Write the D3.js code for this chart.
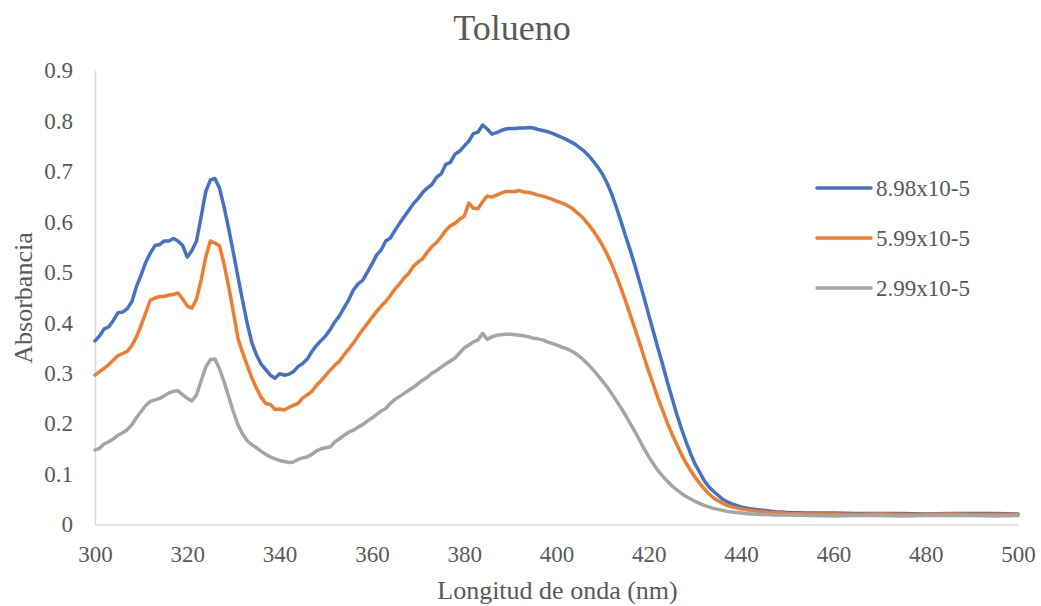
<!DOCTYPE html>
<html>
<head>
<meta charset="utf-8">
<script src="https://cdn.jsdelivr.net/npm/d3@7"></script>
<style>
  html, body { margin: 0; padding: 0; background: #ffffff; }
  svg { display: block; }
  svg text { font-family: "Liberation Serif", "Times New Roman", serif !important; fill: #595959; }
</style>
</head>
<body>
<svg id="chart" width="1041" height="606"></svg>
<script>
// Wavelength grid (nm)
const wavelengths = [
  300,301,302,303,304,305,306,307,308,309,
  310,311,312,313,314,315,316,317,318,319,
  320,321,322,323,324,325,326,327,328,329,
  330,331,332,333,334,335,336,337,338,339,
  340,341,342,343,344,345,346,347,348,349,
  350,351,352,353,354,355,356,357,358,359,
  360,361,362,363,364,365,366,367,368,369,
  370,371,372,373,374,375,376,377,378,379,
  380,381,382,383,384,385,386,387,388,389,
  390,391,392,393,394,395,396,397,398,399,
  400,401,402,403,404,405,406,407,408,409,
  410,411,412,413,414,415,416,417,418,419,
  420,421,422,423,424,425,426,427,428,429,
  430,431,432,433,434,435,436,437,438,439,
  440,441,442,443,444,445,446,447,448,449,
  450,
  455,460,465,470,475,480,485,490,495,500
];

// Absorbance, 8.98x10-5
const absHigh = [
  0.364,0.374,0.388,0.392,0.405,0.420,0.421,0.428,0.442,0.472,
  0.495,0.520,0.538,0.553,0.555,0.562,0.562,0.567,0.562,0.553,
  0.530,0.543,0.562,0.610,0.660,0.683,0.686,0.666,0.628,0.585,
  0.538,0.490,0.443,0.398,0.360,0.336,0.318,0.307,0.296,0.290,
  0.299,0.296,0.298,0.303,0.313,0.319,0.328,0.343,0.355,0.365,
  0.374,0.387,0.402,0.414,0.430,0.446,0.465,0.477,0.484,0.500,
  0.516,0.534,0.544,0.562,0.568,0.583,0.597,0.610,0.623,0.636,
  0.646,0.658,0.667,0.674,0.688,0.695,0.714,0.718,0.734,0.740,
  0.750,0.760,0.775,0.778,0.792,0.784,0.774,0.777,0.781,0.784,
  0.785,0.785,0.786,0.786,0.787,0.786,0.783,0.781,0.779,0.776,
  0.772,0.768,0.764,0.759,0.754,0.747,0.740,0.731,0.720,0.708,
  0.694,0.676,0.654,0.628,0.600,0.571,0.543,0.513,0.481,0.449,
  0.415,0.382,0.349,0.317,0.283,0.252,0.220,0.192,0.166,0.142,
  0.120,0.104,0.087,0.075,0.066,0.058,0.050,0.045,0.041,0.038,
  0.035,0.033,0.031,0.030,0.029,0.028,0.027,0.026,0.025,0.025,
  0.024,
  0.023,0.023,0.022,0.022,0.022,0.021,0.022,0.022,0.022,0.021
];

// Absorbance, 5.99x10-5
const absMid = [
  0.296,0.303,0.310,0.317,0.326,0.335,0.339,0.343,0.355,0.372,
  0.395,0.420,0.445,0.449,0.452,0.452,0.455,0.456,0.459,0.447,
  0.433,0.429,0.447,0.485,0.530,0.562,0.558,0.552,0.515,0.470,
  0.420,0.368,0.340,0.315,0.290,0.270,0.252,0.240,0.238,0.228,
  0.229,0.227,0.232,0.236,0.240,0.251,0.257,0.264,0.276,0.285,
  0.296,0.306,0.316,0.324,0.337,0.348,0.360,0.373,0.386,0.398,
  0.410,0.422,0.433,0.442,0.454,0.467,0.477,0.489,0.498,0.512,
  0.520,0.527,0.540,0.551,0.559,0.570,0.583,0.592,0.597,0.605,
  0.611,0.637,0.627,0.626,0.640,0.651,0.649,0.653,0.657,0.660,
  0.660,0.660,0.662,0.659,0.658,0.656,0.653,0.651,0.648,0.645,
  0.641,0.638,0.634,0.629,0.622,0.614,0.605,0.594,0.582,0.568,
  0.553,0.535,0.515,0.492,0.468,0.442,0.415,0.388,0.360,0.331,
  0.303,0.277,0.250,0.226,0.202,0.180,0.160,0.140,0.123,0.108,
  0.094,0.082,0.071,0.061,0.053,0.047,0.042,0.038,0.035,0.033,
  0.031,0.029,0.028,0.027,0.026,0.025,0.024,0.024,0.023,0.023,
  0.022,
  0.021,0.021,0.020,0.021,0.020,0.020,0.021,0.020,0.020,0.020
];

// Absorbance, 2.99x10-5
const absLow = [
  0.148,0.151,0.160,0.164,0.170,0.177,0.182,0.188,0.198,0.212,
  0.224,0.236,0.244,0.247,0.250,0.255,0.261,0.264,0.265,0.257,
  0.250,0.245,0.257,0.285,0.312,0.327,0.328,0.308,0.282,0.252,
  0.223,0.197,0.179,0.166,0.158,0.152,0.145,0.139,0.134,0.130,
  0.127,0.125,0.123,0.124,0.129,0.132,0.134,0.139,0.146,0.150,
  0.152,0.154,0.164,0.170,0.177,0.183,0.187,0.193,0.198,0.205,
  0.211,0.218,0.225,0.230,0.240,0.248,0.254,0.260,0.266,0.272,
  0.279,0.286,0.292,0.300,0.305,0.312,0.318,0.324,0.330,0.340,
  0.350,0.356,0.362,0.366,0.379,0.367,0.372,0.375,0.376,0.377,
  0.377,0.376,0.375,0.374,0.372,0.369,0.368,0.366,0.362,0.359,
  0.356,0.352,0.349,0.345,0.340,0.333,0.325,0.316,0.306,0.295,
  0.284,0.272,0.259,0.245,0.231,0.216,0.200,0.184,0.167,0.150,
  0.134,0.120,0.107,0.096,0.086,0.077,0.069,0.062,0.056,0.051,
  0.046,0.042,0.038,0.035,0.032,0.030,0.028,0.026,0.025,0.024,
  0.023,0.022,0.021,0.021,0.020,0.020,0.020,0.019,0.019,0.019,
  0.019,
  0.018,0.017,0.018,0.018,0.017,0.018,0.018,0.018,0.017,0.018
];

const seriesNames = ["8.98x10-5", "5.99x10-5", "2.99x10-5"];
const seriesColors = ["#4472C4", "#ED7D31", "#A5A5A5"];
const xTickValues = [300, 320, 340, 360, 380, 400, 420, 440, 460, 480, 500];
const yTickValues = [0, 0.1, 0.2, 0.3, 0.4, 0.5, 0.6, 0.7, 0.8, 0.9];
const chartTitle = "Tolueno";
const xAxisTitle = "Longitud de onda (nm)";
const yAxisTitle = "Absorbancia";

const serif = "'Liberation Serif', 'Times New Roman', serif";
const svg = d3.select("#chart").attr("font-family", serif);
const plot = { left: 95, right: 1018, top: 70.5, bottom: 524.5 };

const x = d3.scaleLinear().domain([300, 500]).range([plot.left, plot.right]);
const y = d3.scaleLinear().domain([0, 0.9]).range([plot.bottom, plot.top]);

// Title
svg.append("text")
  .attr("x", 512).attr("y", 40)
  .attr("text-anchor", "middle")
  .attr("font-family", serif)
  .style("font-size", "36px")
  .text(chartTitle);

// Axes (no tick marks, light grey axis lines)
const axisColor = "#D9D9D9";
const xAxis = svg.append("g")
  .attr("transform", `translate(0,${plot.bottom})`)
  .call(d3.axisBottom(x).tickValues(xTickValues).tickSize(0).tickPadding(21)
    .tickFormat(d3.format("d")));
const yAxis = svg.append("g")
  .attr("transform", `translate(${plot.left},0)`)
  .call(d3.axisLeft(y).tickValues(yTickValues).tickSize(0).tickPadding(22)
    .tickFormat(d => d === 0 ? "0" : d3.format(".1f")(d)));

[xAxis, yAxis].forEach(g => {
  g.attr("font-family", serif).attr("font-size", 23);
  g.select(".domain").attr("stroke", axisColor).attr("stroke-width", 1.5);
  g.selectAll(".tick text")
    .attr("font-family", serif)
    .style("font-size", "23px")
    .attr("fill", "#595959");
});

// Axis titles
svg.append("text")
  .attr("x", (plot.left + plot.right) / 2 + 1).attr("y", 599)
  .attr("text-anchor", "middle")
  .attr("font-family", serif)
  .style("font-size", "26px")
  .text(xAxisTitle);
svg.append("text")
  .attr("transform", "translate(32,298) rotate(-90)")
  .attr("text-anchor", "middle")
  .attr("font-family", serif)
  .style("font-size", "26px")
  .text(yAxisTitle);

// Series lines
const seriesData = [absHigh, absMid, absLow];
const line = d3.line()
  .x((d, i) => x(wavelengths[i]))
  .y(d => y(d));

svg.append("g").selectAll("path")
  .data(seriesData)
  .join("path")
  .attr("d", d => line(d))
  .attr("fill", "none")
  .attr("stroke", (d, i) => seriesColors[i])
  .attr("stroke-width", 3.5)
  .attr("stroke-linejoin", "round")
  .attr("stroke-linecap", "round");

// Legend
const legend = svg.append("g");
const legendRows = legend.selectAll("g")
  .data(seriesNames)
  .join("g")
  .attr("transform", (d, i) => `translate(817,${188 + i * 50})`);
legendRows.append("line")
  .attr("x1", 0).attr("x2", 54).attr("y1", 0).attr("y2", 0)
  .attr("stroke", (d, i) => seriesColors[i])
  .attr("stroke-width", 3.5)
  .attr("stroke-linecap", "round");
legendRows.append("text")
  .attr("x", 59).attr("y", 0).attr("dy", "0.35em")
  .attr("font-family", serif)
  .style("font-size", "23px")
  .text(d => d);
</script>
</body>
</html>
